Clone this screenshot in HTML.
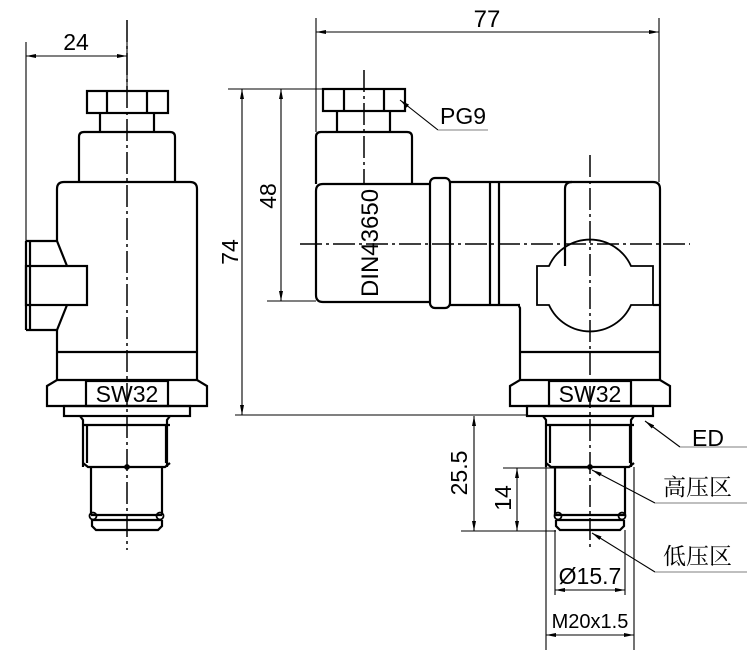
<!DOCTYPE html>
<html><head><meta charset="utf-8"><style>
html,body{margin:0;padding:0;background:#fff;width:747px;height:650px;overflow:hidden}
svg{display:block}
text{font-family:"Liberation Sans","Noto Sans CJK SC",sans-serif;fill:#000}
.cn{font-family:"Liberation Serif","Noto Serif CJK SC",serif}
</style></head><body>
<svg width="747" height="650" viewBox="0 0 747 650" xmlns="http://www.w3.org/2000/svg">
<defs>
<marker id="a" viewBox="0 0 10 4" refX="10" refY="2" markerWidth="10" markerHeight="4" markerUnits="userSpaceOnUse" orient="auto-start-reverse"><path d="M0,0L10,2L0,4z" fill="#000"/></marker>
</defs>
<g fill="none" stroke="#000" stroke-width="2.2">
<rect x="87" y="91" width="81" height="22"/>
<path d="M107 91V113M147 91V113"/>
<path d="M100 113V132M154 113V132"/>
<path d="M79 182V137Q79 132 84 132H170Q175 132 175 137V182"/>
<path d="M57 241V189Q57 182 64 182H190Q197 182 197 189V380"/>
<path d="M57 330V380"/>
<path d="M57 352H197"/>
<path d="M26 241H57L67 266"/>
<path d="M67 305L57 330H26"/>
<path d="M26 241V330M30 241V330"/>
<rect x="26" y="266" width="61" height="39"/>
<path d="M47 386L57 380H197L207 386V406H47Z"/>
<rect x="86" y="381" width="82" height="25"/>
<rect x="64" y="406" width="126" height="10"/>
<path d="M80 416L83 420V467M170 416L167 420V467"/>
<path d="M83 425H170M87 425V463M166 425V463M83 463L88 467H165L170 463"/>
<path d="M91 467V515M162 467V515"/>
<path d="M91 515H162M92 520H162M92 520V526L96 530H158L162 526V520"/>
<rect x="323" y="89" width="82" height="22"/>
<path d="M344 89V111M384 89V111"/>
<path d="M337 111V132M390 111V132"/>
<path d="M316 184V137Q316 132 321 132H407Q412 132 412 137V184"/>
<path d="M430 184H323Q316 184 316 191V295Q316 302 323 302H430"/>
<rect x="430" y="178" width="20" height="130" rx="5"/>
<path d="M450 182H653Q660 182 660 189V380M450 305H520M490 182V305M499 182V305"/>
<path d="M565 266V189Q565 182 572 182"/>
<path d="M653 305H660"/>
<path d="M520 305Q518 305 520 308V380"/>
<path d="M520 352H660"/>
<path d="M510 386L520 380H660L670 386V406H510Z"/>
<rect x="549" y="381" width="82" height="25"/>
<rect x="527" y="406" width="126" height="10"/>
<path d="M543 416L546 420V467M634 416L631 420V467"/>
<path d="M546 425H634M550 425V463M630 425V463M546 463L551 467H629L634 463"/>
<path d="M555 467V515M625 467V515"/>
<path d="M555 515H625M556 520H624M556 520V526L560 530H620L624 526V520"/>
</g>
<g fill="none" stroke="#000" stroke-width="1.8">
<path d="M537 305V266H549A45 45 0 0 1 631 266H653V305H631A45 45 0 0 1 549 305Z"/>
<circle cx="93" cy="516" r="3.5"/><circle cx="160" cy="516" r="3.5"/>
<circle cx="558" cy="516" r="3.5"/><circle cx="622" cy="516" r="3.5"/>
<circle cx="127" cy="467" r="2"/><circle cx="590" cy="467" r="2"/>
</g>
<g stroke="#000" stroke-width="1.5" stroke-dasharray="22,4,3,4" fill="none">
<path d="M127 20V550"/>
<path d="M364 70V184"/>
<path d="M590 155V550"/>
<path d="M300 244H690"/>
</g>
<g stroke="#000" stroke-width="1.1" fill="none">
<path d="M26 42V330M127 42V91"/>
<path d="M26 56H127" marker-start="url(#a)" marker-end="url(#a)"/>
<path d="M316 18V132M659 18V182"/>
<path d="M316 32H659" marker-start="url(#a)" marker-end="url(#a)"/>
<path d="M228 89H323M267 301H316M235 415H527"/>
<path d="M242 89V415" marker-start="url(#a)" marker-end="url(#a)"/>
<path d="M281 89V301" marker-start="url(#a)" marker-end="url(#a)"/>
<path d="M461 531H556M503 468H590"/>
<path d="M474 416V531" marker-start="url(#a)" marker-end="url(#a)"/>
<path d="M517 468V531" marker-start="url(#a)" marker-end="url(#a)"/>
<path d="M555 530V595M625 530V595M546 467V650M634 467V650"/>
<path d="M555 590H625" marker-start="url(#a)" marker-end="url(#a)"/>
<path d="M546 635H634" marker-start="url(#a)" marker-end="url(#a)"/>
<path d="M438 130L400 100" marker-end="url(#a)"/>
<path d="M680 447L645 421" marker-end="url(#a)"/>
<path d="M655 503L592 470" marker-end="url(#a)"/>
<path d="M655 572L592 533" marker-end="url(#a)"/>
</g>
<g stroke="#999" stroke-width="1.2"><path d="M438 130H488M680 447H747M655 503H747M655 572H747"/></g>
<text x="76" y="50" font-size="23" text-anchor="middle">24</text>
<text x="487" y="27" font-size="24" text-anchor="middle">77</text>
<text x="440" y="124" font-size="23">PG9</text>
<text transform="translate(238,252) rotate(-90)" font-size="23" text-anchor="middle">74</text>
<text transform="translate(276,196) rotate(-90)" font-size="23" text-anchor="middle">48</text>
<text transform="translate(378,243) rotate(-90)" font-size="24" text-anchor="middle">DIN43650</text>
<text x="127" y="402" font-size="23" text-anchor="middle">SW32</text>
<text x="590" y="402" font-size="23" text-anchor="middle">SW32</text>
<text x="692" y="446" font-size="23">ED</text>
<text class="cn" x="663" y="495" font-size="23">高压区</text>
<text class="cn" x="663" y="564" font-size="23">低压区</text>
<text transform="translate(467,473) rotate(-90)" font-size="23" text-anchor="middle">25.5</text>
<text transform="translate(511,498) rotate(-90)" font-size="23" text-anchor="middle">14</text>
<text x="590" y="584" font-size="23" text-anchor="middle">Ø15.7</text>
<text x="590" y="628" font-size="20" text-anchor="middle">M20x1.5</text>
</svg>
</body></html>
